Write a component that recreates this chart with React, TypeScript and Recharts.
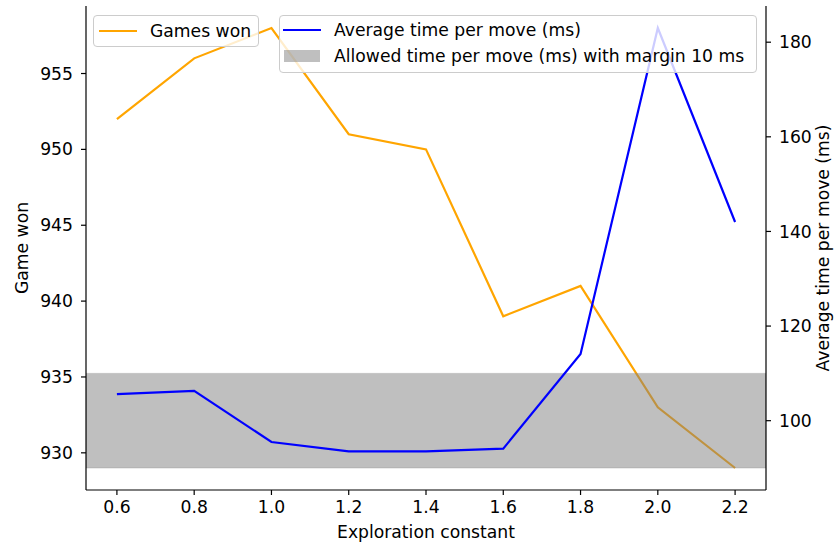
import React from "react";
import {
  LineChart,
  Line,
  XAxis,
  YAxis,
  ReferenceArea,
} from "recharts";

const explorationConstants = [0.6, 0.8, 1.0, 1.2, 1.4, 1.6, 1.8, 2.0, 2.2];
const gamesWon = [952, 956, 958, 951, 950, 939, 941, 933, 929];
const avgTimeMs = [105.6, 106.3, 95.5, 93.5, 93.5, 94.1, 114.1, 183.0, 142.0];
const allowedTimeMs = 100;
const marginMs = 10;
const leftTicks = [930, 935, 940, 945, 950, 955];
const rightTicks = [100, 120, 140, 160, 180];

const data = explorationConstants.map((x, i) => ({
  x,
  won: gamesWon[i],
  time: avgTimeMs[i],
}));

const FONT = "'DejaVu Sans', sans-serif";
const FS = 17.2;
const tickStyle = { fill: "#000", fontSize: FS, fontFamily: FONT };

const W = 835;
const H = 545;

// rotated / centered axis titles
const titleAt = (text: string, dx: number, dy: number, angle: number) =>
  function Title(props: any) {
    const vb = props.viewBox || {};
    const x = (angle ? vb.x + dx : vb.x + vb.width / 2);
    const y = (angle ? vb.y + vb.height / 2 : vb.y + dy);
    return (
      <text
        x={x}
        y={y}
        transform={angle ? `rotate(${angle} ${x} ${y})` : undefined}
        textAnchor="middle"
        dominantBaseline="central"
        fill="#000"
        fontSize={FS}
        fontFamily={FONT}
      >
        {text}
      </text>
    );
  };

const legendBox: React.CSSProperties = {
  position: "absolute",
  background: "rgba(255,255,255,0.8)",
  border: "1px solid #cccccc",
  borderRadius: 4,
  boxSizing: "border-box",
  fontFamily: FONT,
  fontSize: FS,
  color: "#000",
};

const row = (left: number, top: number, sw: React.ReactNode, label: string) => (
  <div
    style={{
      position: "absolute",
      left,
      top,
      height: 22,
      display: "flex",
      alignItems: "center",
      whiteSpace: "nowrap",
    }}
  >
    <div style={{ width: 38, marginRight: 13, display: "flex", alignItems: "center" }}>{sw}</div>
    <span>{label}</span>
  </div>
);

const lineSwatch = (color: string) => (
  <div style={{ width: 38, height: 2.5, background: color }} />
);

export default function App() {
  return (
    <div style={{ position: "absolute", left: 0, top: 0, width: W, height: H, background: "#fff" }}>
      <LineChart
        width={W}
        height={H}
        data={data}
        margin={{ top: 6, right: 0, bottom: 0, left: 0 }}
        style={{ fontFamily: FONT }}
      >
        <XAxis
          xAxisId="top"
          orientation="top"
          dataKey="x"
          type="number"
          domain={[0.52, 2.28]}
          allowDataOverflow
          height={0}
          tick={false}
          tickLine={false}
          axisLine={{ stroke: "#000", strokeWidth: 1.2 }}
        />
        <XAxis
          dataKey="x"
          type="number"
          domain={[0.52, 2.28]}
          allowDataOverflow
          ticks={explorationConstants}
          tickFormatter={(v: number) => v.toFixed(1)}
          height={55}
          tickSize={5}
          tickMargin={6}
          tick={tickStyle}
          axisLine={{ stroke: "#000", strokeWidth: 1.2 }}
          tickLine={{ stroke: "#000", strokeWidth: 1.2 }}
          label={{ content: titleAt("Exploration constant", 0, 42, 0) }}
        />
        <YAxis
          yAxisId="left"
          domain={[927.55, 959.45]}
          allowDataOverflow
          ticks={leftTicks}
          width={86}
          tickSize={5}
          tickMargin={8}
          tick={tickStyle}
          axisLine={{ stroke: "#000", strokeWidth: 1.2 }}
          tickLine={{ stroke: "#000", strokeWidth: 1.2 }}
          label={{ content: titleAt("Game won", 22, 0, -90) }}
        />
        <YAxis
          yAxisId="right"
          orientation="right"
          domain={[85.35, 187.65]}
          allowDataOverflow
          ticks={rightTicks}
          width={69}
          tickSize={5}
          tickMargin={8}
          tick={tickStyle}
          axisLine={{ stroke: "#000", strokeWidth: 1.2 }}
          tickLine={{ stroke: "#000", strokeWidth: 1.2 }}
          label={{ content: titleAt("Average time per move (ms)", 57, 0, -90) }}
        />
        <Line
          yAxisId="left"
          dataKey="won"
          stroke="orange"
          strokeWidth={2.2}
          dot={false}
          activeDot={false}
          isAnimationActive={false}
          {...({ zIndex: 300 } as any)}
        />
        <ReferenceArea
          yAxisId="right"
          y1={allowedTimeMs - marginMs}
          y2={allowedTimeMs + marginMs}
          fill="#808080"
          fillOpacity={0.5}
          stroke="#808080"
          strokeOpacity={0.3}
          ifOverflow="hidden"
          {...({ zIndex: 350 } as any)}
        />
        <Line
          yAxisId="right"
          dataKey="time"
          stroke="blue"
          strokeWidth={2.2}
          dot={false}
          activeDot={false}
          isAnimationActive={false}
          {...({ zIndex: 400 } as any)}
        />
      </LineChart>

      <div style={{ ...legendBox, left: 93, top: 15, width: 166, height: 32 }}>
        {row(5, 4, lineSwatch("orange"), "Games won")}
      </div>
      <div style={{ ...legendBox, left: 279, top: 15, width: 478, height: 58 }}>
        {row(3, 3, lineSwatch("blue"), "Average time per move (ms)")}
        {row(3, 29, <div style={{ width: 36, height: 12, marginLeft: 1, background: "rgba(128,128,128,0.5)" }} />, "Allowed time per move (ms) with margin 10 ms")}
      </div>
    </div>
  );
}
